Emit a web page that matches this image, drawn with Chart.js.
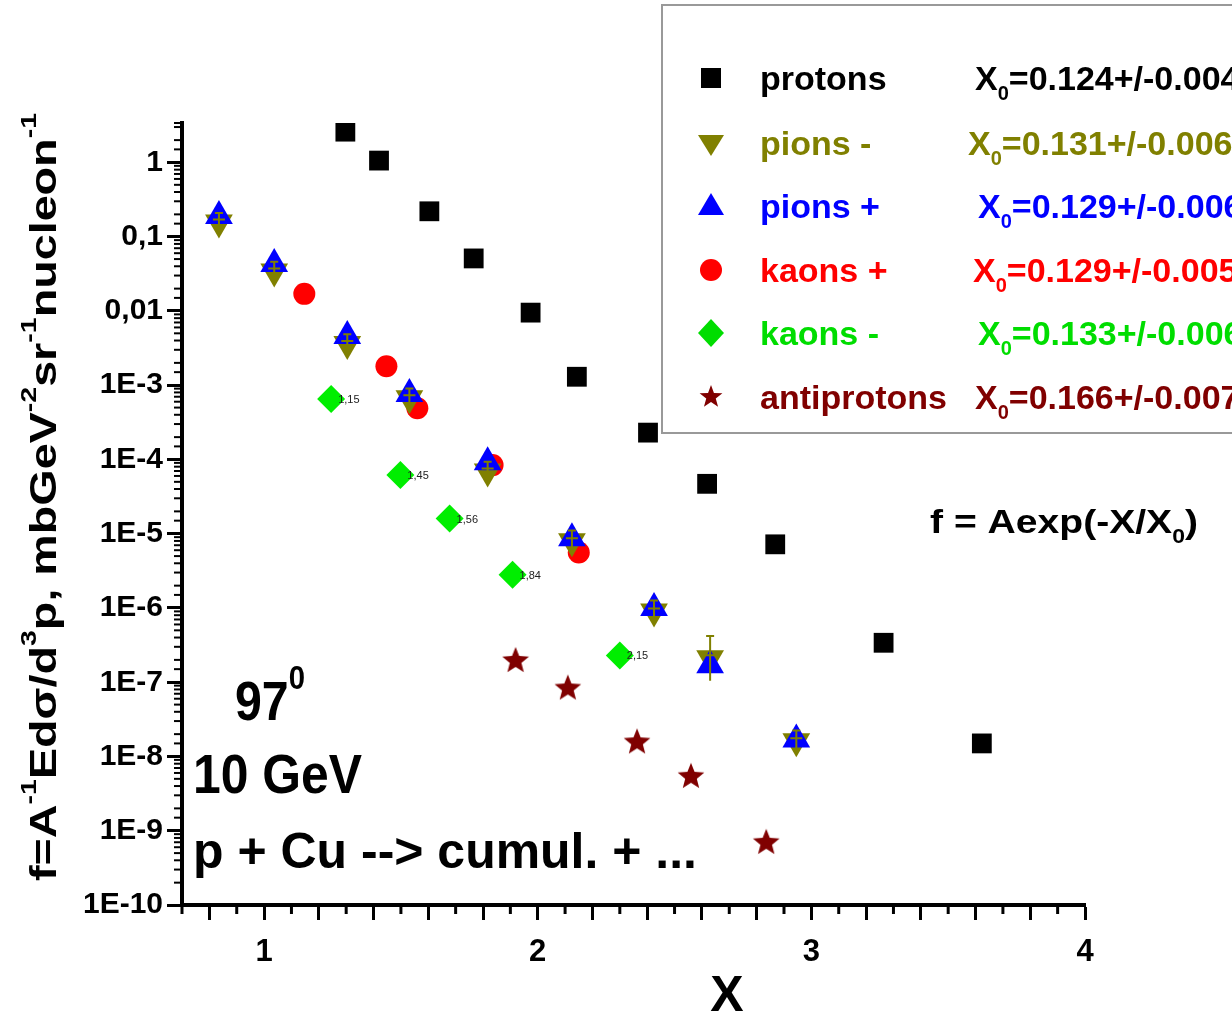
<!DOCTYPE html>
<html>
<head>
<meta charset="utf-8">
<script src="https://cdn.jsdelivr.net/npm/chart.js@4.4.0/dist/chart.umd.min.js"></script>
<style>
html, body { margin: 0; padding: 0; background: #fff; }
#wrap { width: 1232px; height: 1016px; }
</style>
</head>
<body>
<div id="wrap"><canvas id="chart"></canvas></div>
<script>
// values (X, invariant cross section f)
const protonX = [1.297, 1.42, 1.604, 1.766, 1.974, 2.143, 2.403, 2.619, 2.868, 3.264, 3.623];
const protonF = [2.6, 1.06, 0.22, 0.051, 0.0095, 1.3e-3, 2.3e-4, 4.7e-5, 7.2e-6, 3.4e-7, 1.5e-8];
const pionMinusX = [0.835, 1.037, 1.304, 1.531, 1.817, 2.125, 2.425, 2.63, 2.945];
const pionMinusF = [0.155, 0.034, 3.6e-3, 6.7e-4, 6.9e-5, 7.9e-6, 9e-7, 2.1e-7, 1.6e-8];
const pionMinusErr = [0.35, 0.35, 0.35, 0.35, 0.35, 0.4, 0.4, 1.0, 0.4];   // relative errors
const pionPlusX = [0.835, 1.037, 1.304, 1.531, 1.817, 2.125, 2.425, 2.63, 2.945];
const pionPlusF = [0.19, 0.043, 4.6e-3, 7.6e-4, 9.2e-5, 8.7e-6, 1.0e-6, 1.7e-7, 1.7e-8];
const kaonPlusX = [1.147, 1.447, 1.56, 1.835, 2.15];
const kaonPlusF = [0.017, 1.8e-3, 4.9e-4, 8.4e-5, 5.6e-6];
const kaonMinusX = [1.245, 1.498, 1.678, 1.908, 2.30];
const kaonMinusF = [6.5e-4, 6.2e-5, 1.6e-5, 2.8e-6, 2.3e-7];
const kaonMinusTags = ['1,15', '1,45', '1,56', '1,84', '2,15'];
const antiprotonX = [1.919, 2.11, 2.363, 2.56, 2.835];
const antiprotonF = [2.0e-7, 8.5e-8, 1.6e-8, 5.5e-9, 7.1e-10];

const seriesNames = ['protons', 'pions -', 'pions +', 'kaons +', 'kaons -', 'antiprotons'];
const fitX0 = ['0.124+/-0.004', '0.131+/-0.006', '0.129+/-0.006', '0.129+/-0.005', '0.133+/-0.006', '0.166+/-0.007'];
const seriesColors = ['#000000', '#808000', '#0000ff', '#ff0000', '#00ee00', '#800000'];

const FONT = '"Liberation Sans", Arial, sans-serif';

function pts(xs, ys) {
    return xs.map((x, i) => ({ x: x, y: ys[i] }));
}

function starPath(ctx, cx, cy, ro, ri) {
    ctx.beginPath();
    for (let i = 0; i < 10; i++) {
        const r = i % 2 === 0 ? ro : ri;
        const a = -Math.PI / 2 + i * Math.PI / 5;
        const px = cx + r * Math.cos(a), py = cy + r * Math.sin(a);
        if (i === 0) ctx.moveTo(px, py); else ctx.lineTo(px, py);
    }
    ctx.closePath();
}

function makeStar(size, color) {
    const c = document.createElement('canvas');
    c.width = size; c.height = size;
    const g = c.getContext('2d');
    g.fillStyle = color;
    starPath(g, size / 2, size / 2 + 1, size / 2, size / 4.6);
    g.fill();
    return c;
}
const starImg = makeStar(28, seriesColors[5]);

// legend marker, same shapes as the plotted points
function drawMarker(ctx, kind, x, y, color) {
    ctx.save();
    ctx.fillStyle = color;
    ctx.beginPath();
    if (kind === 0) {
        ctx.rect(x - 10, y - 10, 20, 20);
    } else if (kind === 1) {
        ctx.moveTo(x - 13, y - 8); ctx.lineTo(x + 13, y - 8); ctx.lineTo(x, y + 13);
    } else if (kind === 2) {
        ctx.moveTo(x - 13, y + 9); ctx.lineTo(x + 13, y + 9); ctx.lineTo(x, y - 13);
    } else if (kind === 3) {
        ctx.arc(x, y, 11, 0, Math.PI * 2);
    } else if (kind === 4) {
        ctx.moveTo(x, y - 14); ctx.lineTo(x + 13, y); ctx.lineTo(x, y + 14); ctx.lineTo(x - 13, y);
    } else {
        starPath(ctx, x, y, 12, 5);
    }
    ctx.closePath();
    ctx.fill();
    ctx.restore();
}

// text made of pieces: [text, 0 normal | 1 superscript | -1 subscript]
function richWidth(ctx, parts, size) {
    let w = 0;
    parts.forEach(p => {
        ctx.font = 'bold ' + (p[1] ? Math.round(size * 0.6) : size) + 'px ' + FONT;
        w += ctx.measureText(p[0]).width;
    });
    return w;
}

function drawRich(ctx, parts, x, y, size, color, targetW, center) {
    const natural = richWidth(ctx, parts, size);
    const sx = targetW ? targetW / natural : 1;
    ctx.save();
    ctx.translate(x, y);
    ctx.scale(sx, 1);
    ctx.fillStyle = color;
    ctx.textAlign = 'left';
    ctx.textBaseline = 'alphabetic';
    let cx = center ? -natural / 2 : 0;
    parts.forEach(p => {
        const fs = p[1] ? Math.round(size * 0.6) : size;
        ctx.font = 'bold ' + fs + 'px ' + FONT;
        const dy = p[1] === 1 ? -size * 0.55 : (p[1] === -1 ? size * 0.3 : 0);
        ctx.fillText(p[0], cx, dy);
        cx += ctx.measureText(p[0]).width;
    });
    ctx.restore();
}

function isPow10(v) {
    const l = Math.log10(v);
    return Math.abs(l - Math.round(l)) < 1e-6;
}

function yLabel(v) {
    if (!isPow10(v)) return '';
    const e = Math.round(Math.log10(v));
    if (e === 0) return '1';
    if (e === -1) return '0,1';
    if (e === -2) return '0,01';
    return '1E' + e;
}

const decor = {
    id: 'decor',
    afterDatasetsDraw(chart) {
        const ctx = chart.ctx;
        const ys = chart.scales.y;

        // pions - error bars, drawn over the triangles
        const pm = chart.getDatasetMeta(1);
        ctx.save();
        ctx.strokeStyle = seriesColors[1];
        ctx.lineWidth = 2;
        pm.data.forEach((el, i) => {
            const top = ys.getPixelForValue(pionMinusF[i] * (1 + pionMinusErr[i]));
            const bot = ys.getPixelForValue(pionMinusF[i] / (1 + pionMinusErr[i]));
            ctx.beginPath();
            ctx.moveTo(el.x, top); ctx.lineTo(el.x, bot);
            ctx.moveTo(el.x - 6, el.y - 3); ctx.lineTo(el.x + 6, el.y - 3);
            ctx.moveTo(el.x - 4, top); ctx.lineTo(el.x + 4, top);
            ctx.stroke();
        });
        ctx.restore();

        const meta = chart.getDatasetMeta(4);
        ctx.save();
        ctx.fillStyle = '#222';
        ctx.font = '11px ' + FONT;
        ctx.textBaseline = 'middle';
        meta.data.forEach((el, i) => {
            ctx.fillText(kaonMinusTags[i], el.x + 7, el.y + 1);
        });
        ctx.restore();
    },
    afterDraw(chart) {
        const ctx = chart.ctx;
        const xs = chart.scales.x, ys = chart.scales.y;
        const area = chart.chartArea;

        // short minor ticks
        ctx.save();
        ctx.strokeStyle = '#000';
        ctx.lineWidth = 2;
        ys.ticks.forEach(t => {
            if (isPow10(t.value)) return;
            const py = ys.getPixelForValue(t.value);
            if (py < area.top - 1) return;
            ctx.beginPath(); ctx.moveTo(area.left - 8, py); ctx.lineTo(area.left, py); ctx.stroke();
        });
        ctx.lineWidth = 3;
        xs.ticks.forEach(t => {
            if (Math.round(t.value * 10) % 2 === 0) return;
            const px = xs.getPixelForValue(t.value);
            ctx.beginPath(); ctx.moveTo(px, area.bottom); ctx.lineTo(px, area.bottom + 9); ctx.stroke();
        });
        ctx.restore();

        // axis titles
        ctx.save();
        ctx.translate(56, 497);
        ctx.rotate(-Math.PI / 2);
        drawRich(ctx, [['f=A', 0], ['-1', 1], ['Ed\u03c3/d', 0], ['3', 1], ['p, mbGeV', 0], ['-2', 1],
            ['sr', 0], ['-1', 1], ['nucleon', 0], ['-1', 1]], 0, 0, 36, '#000', 768, true);
        ctx.restore();
        drawRich(ctx, [['X', 0]], 727, 1011, 50, '#000', 0, true);

        // annotations
        drawRich(ctx, [['97', 0], ['0', 1]], 235, 720, 56, '#000', 70, false);
        drawRich(ctx, [['10 GeV', 0]], 193, 793, 55, '#000', 169, false);
        drawRich(ctx, [['p + Cu --> cumul. + ...', 0]], 193, 868, 50, '#000', 504, false);
        drawRich(ctx, [['f = Aexp(-X/X', 0], ['0', -1], [')', 0]], 930, 533, 34, '#000', 268, false);

        // legend box
        ctx.save();
        ctx.fillStyle = '#fff';
        ctx.strokeStyle = '#999';
        ctx.lineWidth = 2;
        ctx.fillRect(662, 5, 600, 428);
        ctx.strokeRect(662, 5, 600, 428);
        ctx.restore();
        const rowY = [78, 143, 206, 270, 333, 397];
        const fx = [975, 968, 978, 973, 978, 975];
        seriesNames.forEach((name, i) => {
            const c = seriesColors[i] === '#00ee00' ? '#00dd00' : seriesColors[i];
            drawMarker(ctx, i, 711, rowY[i], c);
            drawRich(ctx, [[name, 0]], 760, rowY[i] + 12, 34, c, 0, false);
            drawRich(ctx, [['X', 0], ['0', -1], ['=' + fitX0[i], 0]], fx[i], rowY[i] + 12, 34, c, 0, false);
        });
    }
};

new Chart(document.getElementById('chart').getContext('2d'), {
    type: 'scatter',
    data: {
        datasets: [
            { label: seriesNames[0], data: pts(protonX, protonF), pointStyle: 'rect', pointRadius: 14,
              backgroundColor: seriesColors[0], borderColor: seriesColors[0], borderWidth: 0, order: 6 },
            { label: seriesNames[1], data: pts(pionMinusX, pionMinusF), pointStyle: 'triangle', rotation: 180, pointRadius: 16,
              backgroundColor: seriesColors[1], borderColor: seriesColors[1], borderWidth: 0, order: 2 },
            { label: seriesNames[2], data: pts(pionPlusX, pionPlusF), pointStyle: 'triangle', pointRadius: 16,
              backgroundColor: seriesColors[2], borderColor: seriesColors[2], borderWidth: 0, order: 1 },
            { label: seriesNames[3], data: pts(kaonPlusX, kaonPlusF), pointStyle: 'circle', pointRadius: 11,
              backgroundColor: seriesColors[3], borderColor: seriesColors[3], borderWidth: 0, order: 3 },
            { label: seriesNames[4], data: pts(kaonMinusX, kaonMinusF), pointStyle: 'rectRot', pointRadius: 14,
              backgroundColor: seriesColors[4], borderColor: seriesColors[4], borderWidth: 0, order: 4 },
            { label: seriesNames[5], data: pts(antiprotonX, antiprotonF), pointStyle: starImg, pointRadius: 14,
              backgroundColor: seriesColors[5], borderColor: seriesColors[5], borderWidth: 0, order: 5 }
        ]
    },
    options: {
        responsive: true,
        maintainAspectRatio: false,
        animation: false,
        layout: { padding: { top: 123, right: 147, left: 0, bottom: 0 } },
        plugins: { legend: { display: false }, tooltip: { enabled: false } },
        scales: {
            x: {
                type: 'linear',
                min: 0.7,
                max: 4.0,
                afterFit: s => { s.height = 111; },
                border: { color: '#000', width: 4 },
                grid: {
                    drawOnChartArea: false,
                    tickLength: 15,
                    tickWidth: 3,
                    tickColor: c => (Math.round(c.tick.value * 10) % 2 === 0 ? '#000' : 'rgba(0,0,0,0)')
                },
                ticks: {
                    stepSize: 0.1,
                    autoSkip: false,
                    maxRotation: 0,
                    padding: 14,
                    color: '#000',
                    font: { family: FONT, size: 31, weight: 'bold' },
                    callback: v => (Math.abs(v - Math.round(v)) < 1e-6 ? String(Math.round(v)) : '')
                }
            },
            y: {
                type: 'logarithmic',
                min: 1e-10,
                max: 3.4,
                afterFit: s => { s.width = 182; },
                border: { color: '#000', width: 4 },
                grid: {
                    drawOnChartArea: false,
                    tickLength: 15,
                    tickWidth: 3,
                    tickColor: c => (isPow10(c.tick.value) ? '#000' : 'rgba(0,0,0,0)')
                },
                ticks: {
                    autoSkip: false,
                    padding: 4,
                    color: '#000',
                    font: { family: FONT, size: 30, weight: 'bold' },
                    callback: v => yLabel(v)
                }
            }
        }
    },
    plugins: [decor]
});
</script>
</body>
</html>
